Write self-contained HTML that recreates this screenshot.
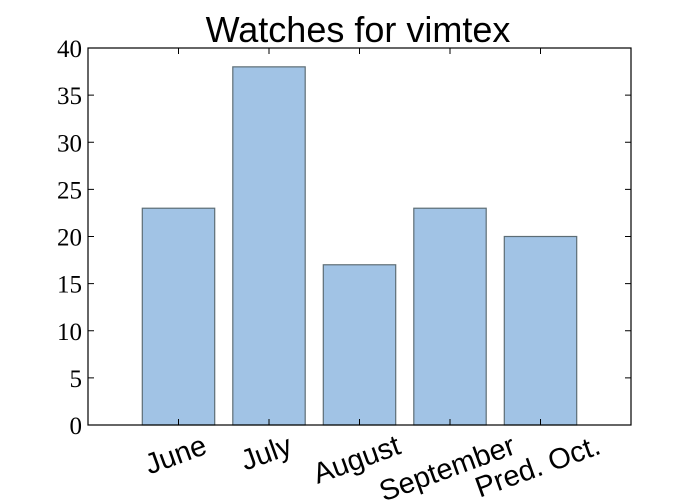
<!DOCTYPE html>
<html><head><meta charset="utf-8">
<style>
html,body{margin:0;padding:0;background:#fff;}
svg{display:block;}
</style></head>
<body>
<svg id="chart" width="700" height="500" xmlns="http://www.w3.org/2000/svg">
<rect width="700" height="500" fill="#fff"/>
<text x="358" y="42" font-family="Liberation Sans, sans-serif" font-size="36" text-anchor="middle">Watches for vimtex</text>
<g id="plot"></g>
</svg>
<script>
const categories = ["June", "July", "August", "September", "Pred. Oct."];
const watches = [23, 38, 17, 23, 20];
const yTicks = [0, 5, 10, 15, 20, 25, 30, 35, 40];

const L = 88, R = 631, T = 48, B = 425;
const xMin = 0, xMax = 6, yMin = 0, yMax = 40;
const xs = v => L + (v - xMin) / (xMax - xMin) * (R - L);
const ys = v => B - (v - yMin) / (yMax - yMin) * (B - T);
const NS = "http://www.w3.org/2000/svg";
const g = document.getElementById("plot");
function mk(tag, attrs) { const e = document.createElementNS(NS, tag); for (const k in attrs) e.setAttribute(k, attrs[k]); g.appendChild(e); return e; }

watches.forEach((v, i) => {
  const r = mk("rect", {x: xs(i + 0.6), y: ys(v), width: xs(0.8) - xs(0), height: ys(0) - ys(v), fill: "#a1c3e5", stroke: "#5d6d75", "stroke-width": 1.2});
  
  
});

yTicks.forEach(t => {
  const y = ys(t);
  const a = mk("line", {x1: L, x2: L + 6, y1: y, y2: y, stroke: "#000", "stroke-width": 1});
  
  
  const b = mk("line", {x1: R - 6, x2: R, y1: y, y2: y, stroke: "#000", "stroke-width": 1});
  
  
  const tx = mk("text", {x: L - 6, y: y + 9, "text-anchor": "end", "font-family": "Liberation Serif, serif", "font-size": 25});
  tx.textContent = t;
  
  
});

const ang = 20 * Math.PI / 180;
categories.forEach((c, i) => {
  const x = xs(i + 1);
  const a = mk("line", {x1: x, x2: x, y1: B, y2: B - 6, stroke: "#000", "stroke-width": 1});
  
  
  const b = mk("line", {x1: x, x2: x, y1: T, y2: T + 6, stroke: "#000", "stroke-width": 1});
  
  
  const fs = 29;
  const tx = mk("text", {x: x - 3, y: 0, "text-anchor": "middle", "font-family": "Liberation Sans, sans-serif", "font-size": fs});
  tx.textContent = c;
  const w = tx.getComputedTextLength();
  const h = fs;
  const cy = B + 5 + (w * Math.sin(ang) + h * Math.cos(ang)) / 2;
  tx.setAttribute('y', cy + fs * 0.35);
  tx.setAttribute('transform', `rotate(-20 ${x - 3} ${cy})`);
  
  
});

const frame = mk("rect", {x: L, y: T, width: R - L, height: B - T, fill: "none", stroke: "#000", "stroke-width": 1.2});


</script>
</body></html>
